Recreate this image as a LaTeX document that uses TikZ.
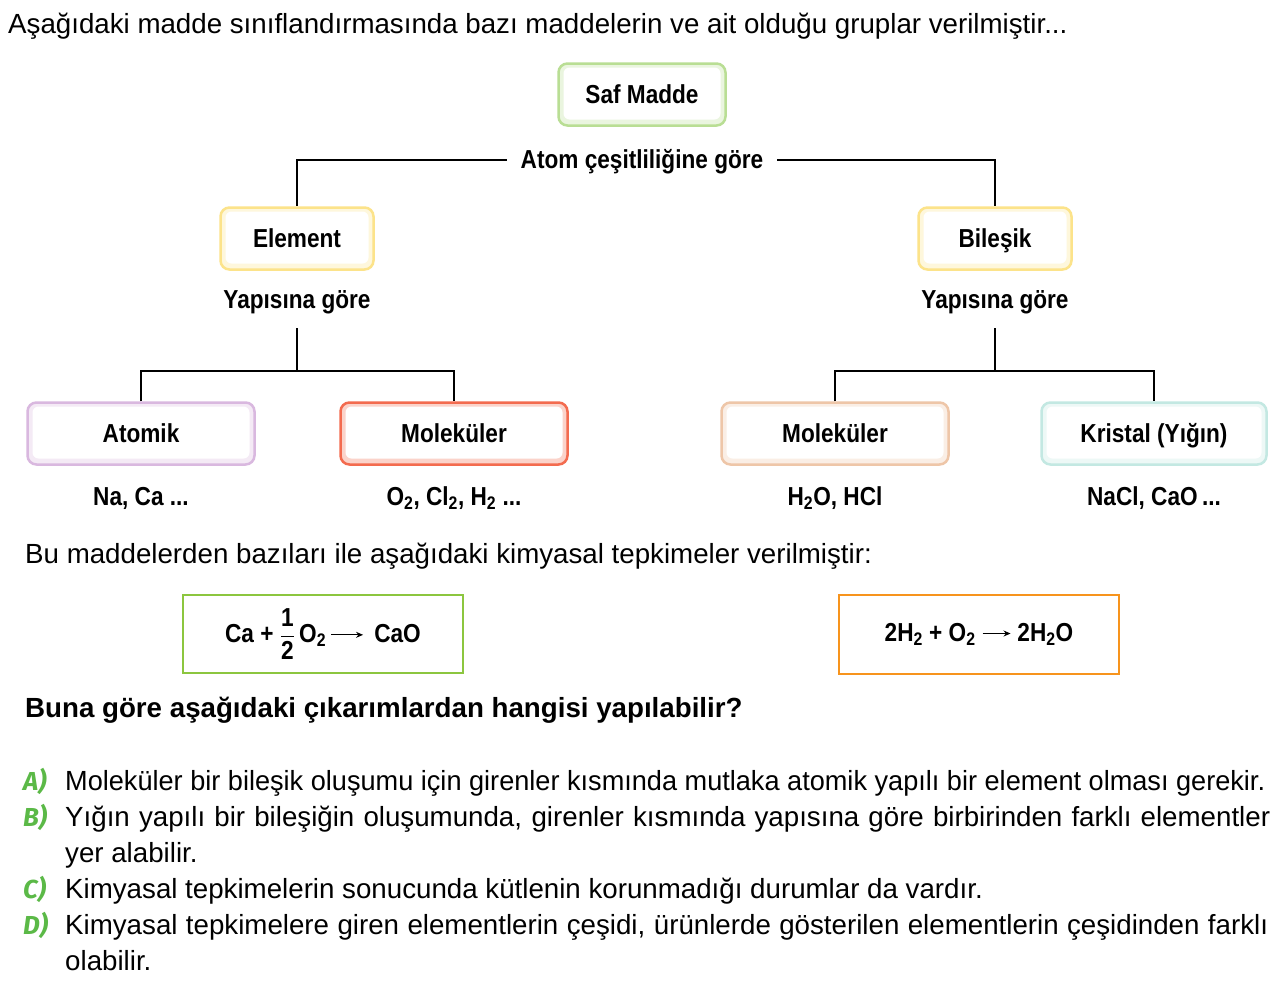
\documentclass[tikz,border=0pt]{standalone}
\usepackage{fontspec}
\usepackage{graphicx}
\setmainfont{Liberation Sans}
\newfontfamily\cond[FakeStretch=0.87]{Liberation Sans}
\newfontfamily\optfont{Fira Sans}
\usetikzlibrary{calc,arrows.meta}
\definecolor{safG}{HTML}{B9DE94}
\definecolor{elemY}{HTML}{FCE38A}
\definecolor{atomP}{HTML}{D9B8DF}
\definecolor{molR}{HTML}{F36B4F}
\definecolor{molT}{HTML}{EEC6A8}
\definecolor{kriC}{HTML}{C3E8E2}
\definecolor{eqG}{HTML}{8CC63F}
\definecolor{eqO}{HTML}{F7941D}
\definecolor{optG}{HTML}{5BB947}
\newcommand{\rxarrow}[1]{\tikz[x=1pt,y=1pt,baseline=0pt]{\draw[line width=1.3pt,-{Stealth[length=7pt,width=6pt]}] (0,8) -- (#1,8);}}
\tikzset{
  cbox/.style={draw=#1, line width=2.5pt, rounded corners=9pt, minimum height=62pt,
    fill=#1!30, inner sep=0pt,
    font=\cond\bfseries\fontsize{26}{30}\selectfont, text height=18pt, text depth=0pt,
    path picture={\fill[white, rounded corners=6pt]
      ([xshift=5pt,yshift=-4pt]path picture bounding box.north west) rectangle
      ([xshift=-5pt,yshift=6pt]path picture bounding box.south east);}},
  lbl/.style={font=\cond\bfseries\fontsize{26}{30}\selectfont, inner sep=0pt},
  body/.style={font=\fontsize{27.7}{33}\selectfont, inner sep=0pt, anchor=base west},
  opt/.style={font=\optfont\bfseries\itshape\fontsize{26}{30}\selectfont, text=optG, inner sep=0pt, anchor=base west},
  eqbox/.style={draw=#1, line width=2.2pt, inner sep=0pt,
    font=\cond\bfseries\fontsize{26}{30}\selectfont},
  conn/.style={line width=1.4pt, black}
}
\begin{document}
\begin{tikzpicture}[x=1pt,y=-1pt]
\useasboundingbox[fill=white] (0,0) rectangle (1272,993);

\node[body] (title) at (8,33) {Aşağıdaki madde sınıflandırmasında bazı maddelerin ve ait olduğu gruplar verilmiştir...};

\node[cbox=safG, minimum width=167pt] (saf) at (642,94.5) {Saf Madde};
\node[lbl, inner xsep=14pt, text height=16pt, text depth=0pt] (atom) at (642,160) {Atom çeşitliliğine göre};

\node[cbox=elemY, minimum width=153pt] (elem) at (297,238.5) {Element};
\node[cbox=elemY, minimum width=153pt] (bil) at (995,238.5) {Bileşik};

\draw[conn] (atom.west) -| (elem.north);
\draw[conn] (atom.east) -| (bil.north);

\node[lbl, anchor=base] (yap1) at (297,308) {Yapısına göre};
\node[lbl, anchor=base] (yap2) at (995,308) {Yapısına göre};

\node[cbox=atomP, minimum width=227pt] (atomik) at (141,433.5) {Atomik};
\node[cbox=molR, minimum width=227pt] (mol1) at (454,433.5) {Moleküler};
\node[cbox=molT, minimum width=227pt] (mol2) at (835,433.5) {Moleküler};
\node[cbox=kriC, minimum width=225pt] (kri) at (1154,433.5) {Kristal (Yığın)};

\coordinate (j1) at (297,371);
\coordinate (j2) at (995,371);
\draw[conn] ($(yap1.base)+(0,20)$) -- (j1);
\draw[conn] ($(yap2.base)+(0,20)$) -- (j2);
\draw[conn] (atomik.north) |- (j1) -| (mol1.north);
\draw[conn] (mol2.north) |- (j2) -| (kri.north);

\node[lbl, anchor=base] (ex1) at (141,505) {Na, Ca ...};
\node[lbl, anchor=base] (ex2) at (454,505) {O\textsubscript{2}, Cl\textsubscript{2}, H\textsubscript{2} ...};
\node[lbl, anchor=base] (ex3) at (835,505) {H\textsubscript{2}O, HCl};
\node[lbl, anchor=base] (ex4) at (1154,505) {NaCl, CaO\,...};

\node[body] (bu) at (25,563) {Bu maddelerden bazıları ile aşağıdaki kimyasal tepkimeler verilmiştir:};

\node[eqbox=eqG, minimum width=280pt, minimum height=78pt] (eq1) at (323,634)
  {Ca + $\displaystyle\frac{\hbox{1}}{\hbox{2}}$\,O\textsubscript{2}\,\rxarrow{32}\, CaO};
\node[eqbox=eqO, minimum width=280pt, minimum height=79pt] (eq2) at (979,634.5)
  {2H\textsubscript{2} + O\textsubscript{2}\ \rxarrow{28}\ 2H\textsubscript{2}O};

\node[body, font=\bfseries\fontsize{27.7}{33}\selectfont] (q) at (25,717) {Buna göre aşağıdaki çıkarımlardan hangisi yapılabilir?};

\node[opt] (oA) at (23,790) {A)};
\node[body] (tA) at (65,790) {\resizebox{1200pt}{\height}{Moleküler bir bileşik oluşumu için girenler kısmında mutlaka atomik yapılı bir element olması gerekir.}};
\node[opt] (oB) at (23,826) {B)};
\node[body] (tB) at (65,826) {\makebox[1205pt][s]{Yığın yapılı bir bileşiğin oluşumunda, girenler kısmında yapısına göre birbirinden farklı elementler}};
\node[body] (tB2) at (65,862) {yer alabilir.};
\node[opt] (oC) at (23,898) {C)};
\node[body] (tC) at (65,898) {Kimyasal tepkimelerin sonucunda kütlenin korunmadığı durumlar da vardır.};
\node[opt] (oD) at (23,934) {D)};
\node[body] (tD) at (65,934) {\makebox[1203pt][s]{Kimyasal tepkimelere giren elementlerin çeşidi, ürünlerde gösterilen elementlerin çeşidinden farklı}};
\node[body] (tD2) at (65,970) {olabilir.};
\end{tikzpicture}
\end{document}
